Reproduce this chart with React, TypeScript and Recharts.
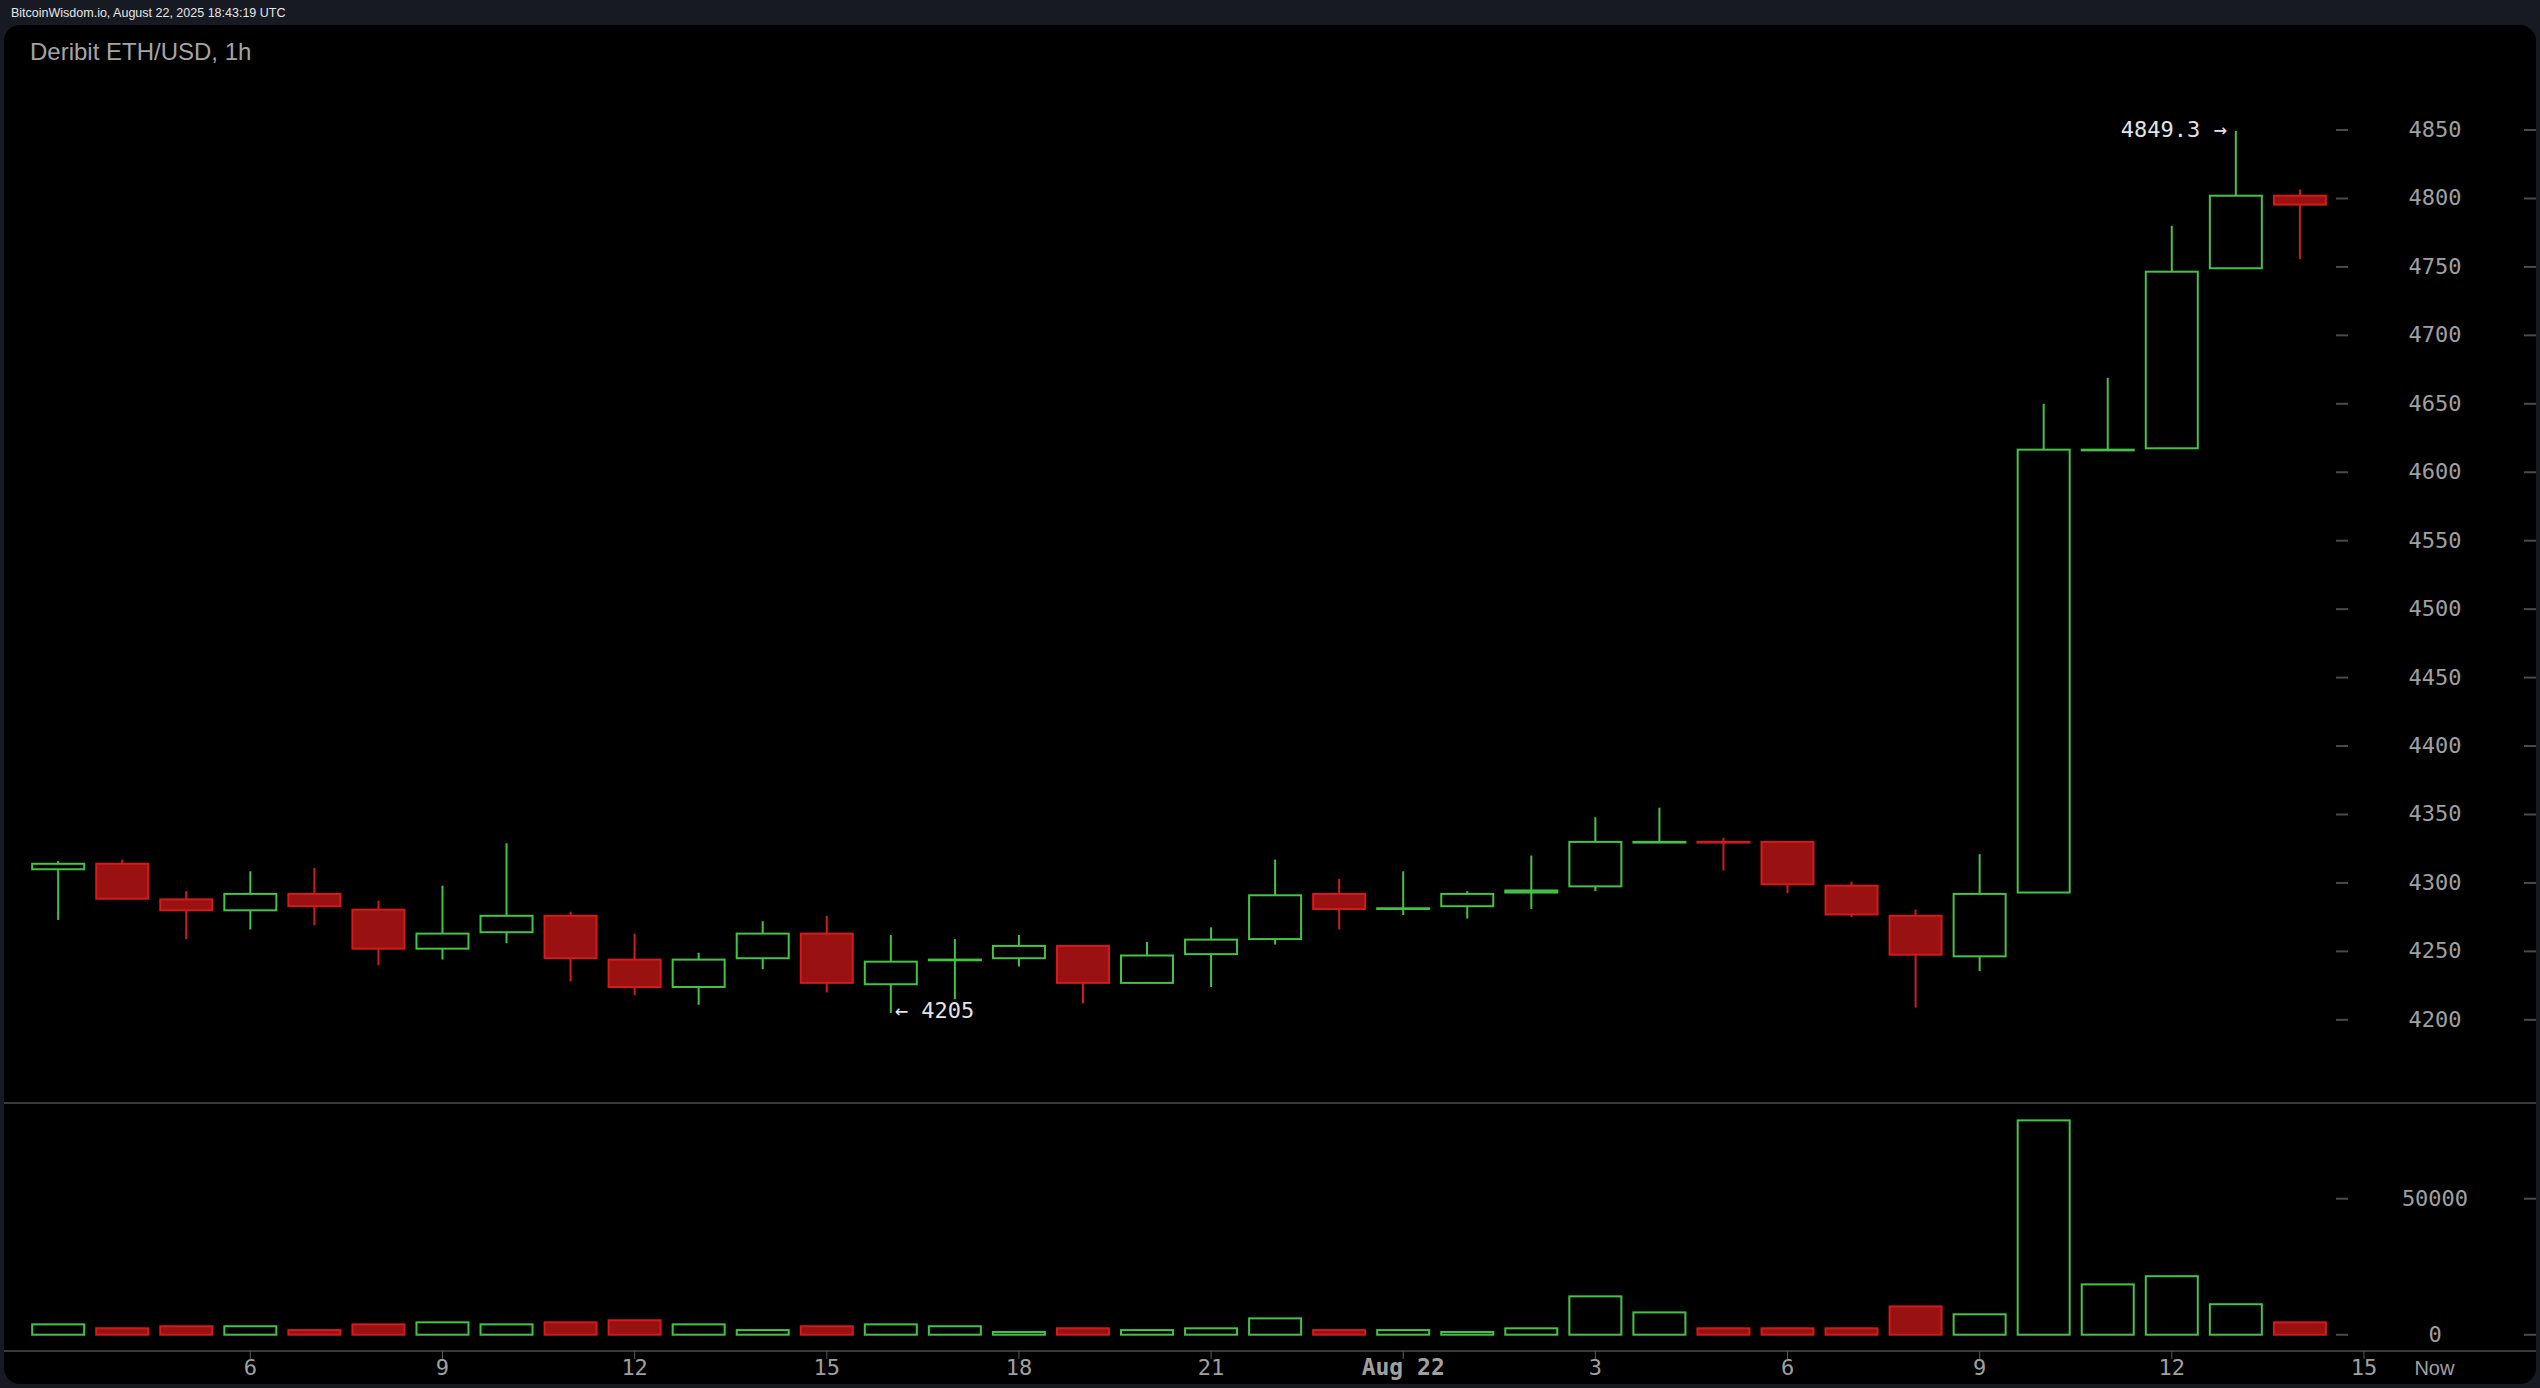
import React from 'react';
import { ComposedChart, Bar, XAxis, YAxis } from 'recharts';

// hourly candles, Aug 21 03:00 .. Aug 22 14:00 (hour index, 24 = Aug 22 00:00)
const hourIdx = [3, 4, 5, 6, 7, 8, 9, 10, 11, 12, 13, 14, 15, 16, 17, 18, 19, 20, 21, 22, 23, 24, 25, 26, 27, 28, 29, 30, 31, 32, 33, 34, 35, 36, 37, 38];
const opens = [4310, 4314, 4288, 4280, 4292, 4280.5, 4252, 4264, 4276, 4244, 4224, 4245, 4263, 4226, 4243.5, 4245, 4254, 4227, 4248, 4259, 4292, 4281, 4283, 4293, 4297.5, 4329.5, 4330, 4330, 4298, 4276, 4246.4, 4293, 4616, 4617.5, 4749, 4802];
const highs = [4316, 4317, 4294, 4308.5, 4311, 4287, 4298, 4329, 4279, 4263, 4249, 4272, 4276, 4262, 4259, 4262, 4254.5, 4257, 4267.6, 4317, 4303, 4308.5, 4294, 4320, 4348, 4355, 4333, 4330.3, 4301, 4280.5, 4321, 4650, 4669, 4780, 4849.3, 4806.5];
const lows = [4273, 4288, 4259, 4266, 4269, 4240, 4244, 4256, 4228, 4218, 4211, 4237, 4220, 4205, 4215, 4239, 4212, 4226.8, 4224, 4255, 4266, 4276.6, 4274, 4281, 4294, 4329.3, 4309, 4292.6, 4275, 4209, 4235.6, 4292.8, 4615.8, 4617, 4748.8, 4755.7];
const closes = [4314, 4288.5, 4280, 4292, 4283, 4252, 4263, 4276, 4245, 4224, 4244, 4263, 4227, 4242.5, 4244, 4254, 4227, 4247, 4258.6, 4291, 4281, 4281.5, 4292, 4294.5, 4330, 4330, 4329.5, 4299, 4277, 4247.6, 4292, 4616.5, 4616.5, 4746.5, 4802, 4795.5];
const volumes = [3800, 2350, 3100, 3100, 1700, 3800, 4550, 3800, 4550, 5300, 3800, 1700, 3100, 3800, 3100, 1000, 2350, 1700, 2350, 6000, 1700, 1700, 1000, 2350, 14100, 8200, 2350, 2350, 2350, 10400, 7500, 78800, 18500, 21500, 11200, 4550];

const priceTicks = [4200, 4250, 4300, 4350, 4400, 4450, 4500, 4550, 4600, 4650, 4700, 4750, 4800, 4850];
const volumeTicks = [0, 50000];
const xTickValues = [6, 9, 12, 15, 18, 21, 24, 27, 30, 33, 36, 39, 40.1];
const xTickLabels = ['6', '9', '12', '15', '18', '21', 'Aug 22', '3', '6', '9', '12', '15', 'Now'];

const GREEN = '#46c246';
const RED = '#d01c1c';
const RED_FILL = '#9a1111';
const AXIS_GREY = '#a0a0a0';
const MONO = '"DejaVu Sans Mono", monospace';
const SANS = '"Liberation Sans", Arial, sans-serif';

const W = 2532;
const X_DOMAIN: [number, number] = [2.1538, 41.686];

const rows = hourIdx.map((h, i) => ({
  h,
  open: opens[i],
  high: highs[i],
  low: lows[i],
  close: closes[i],
  range: [lows[i], highs[i]],
  volume: volumes[i],
  up: closes[i] >= opens[i],
}));

const maxHigh = Math.max(...highs);
const minLow = Math.min(...lows);

const Candle = (props: any) => {
  const { x, y, width, height, payload } = props;
  const top = height >= 0 ? y : y + height;
  const h = Math.abs(height);
  const span = payload.high - payload.low;
  const py = (v: number) => top + ((payload.high - v) / span) * h;
  const color = payload.up ? GREEN : RED;
  const cx = x + width / 2;
  const bTop = py(Math.max(payload.open, payload.close));
  const bBot = py(Math.min(payload.open, payload.close));
  return (
    <g>
      <line x1={cx} x2={cx} y1={top} y2={top + h} stroke={color} strokeWidth={2} />
      <rect
        x={x + 1}
        y={bTop}
        width={width - 2}
        height={Math.max(bBot - bTop, 0.5)}
        fill={payload.up ? '#000' : RED_FILL}
        stroke={color}
        strokeWidth={2}
      />
      {payload.high === maxHigh && (
        <text x={cx - 9} y={top + 6} textAnchor="end" fill="#e4e4e4" fontFamily={MONO} fontSize={22}>
          {`${payload.high} →`}
        </text>
      )}
      {payload.low === minLow && (
        <text x={cx + 4} y={top + h + 5} textAnchor="start" fill="#e4e4e4" fontFamily={MONO} fontSize={22}>
          {`← ${payload.low}`}
        </text>
      )}
    </g>
  );
};

const VolumeBar = (props: any) => {
  const { x, y, width, height, payload } = props;
  const top = height >= 0 ? y : y + height;
  const h = Math.abs(height);
  return (
    <rect
      x={x + 1}
      y={top}
      width={width - 2}
      height={Math.max(h, 0.5)}
      fill={payload.up ? '#000' : RED_FILL}
      stroke={payload.up ? GREEN : RED}
      strokeWidth={2}
    />
  );
};

const SideTick = (props: any) => {
  const { y, payload } = props;
  return (
    <g>
      <line x1={2332} x2={2344} y1={y} y2={y} stroke="#4a4a4a" strokeWidth={2} />
      <text x={2431} y={y + 7} textAnchor="middle" fill={AXIS_GREY} fontFamily={MONO} fontSize={22}>
        {payload.value}
      </text>
      <line x1={2520} x2={2532} y1={y} y2={y} stroke="#4a4a4a" strokeWidth={2} />
    </g>
  );
};

const TimeTick = (props: any) => {
  const { x, y, payload } = props;
  const label = xTickLabels[xTickValues.indexOf(payload.value)] ?? '';
  const isNow = label === 'Now';
  const isDay = label.startsWith('Aug');
  return (
    <g>
      {!isNow && <line x1={x} x2={x} y1={y} y2={y + 8} stroke="#5a5a5a" strokeWidth={1} />}
      <text
        x={x}
        y={y + 24}
        textAnchor="middle"
        fill={AXIS_GREY}
        fontFamily={isNow ? SANS : MONO}
        fontSize={isNow ? 20 : isDay ? 23 : 22}
        fontWeight={isDay ? 'bold' : 'normal'}
      >
        {label}
      </text>
    </g>
  );
};

export default function App() {
  return (
    <div style={{ position: 'absolute', left: 0, top: 0, width: 2540, height: 1388, background: '#171a23', overflow: 'hidden' }}>
      <div style={{ position: 'absolute', left: 11, top: 4, fontFamily: SANS, fontSize: 12.5, color: '#e6e6e6', lineHeight: '18px' }}>
        BitcoinWisdom.io, August 22, 2025 18:43:19 UTC
      </div>
      <div style={{ position: 'absolute', left: 4, top: 25, width: W, height: 1359, background: '#000', borderRadius: 16, overflow: 'hidden' }}>
        <div style={{ position: 'absolute', left: 26, top: 13, fontFamily: SANS, fontSize: 24, color: '#a4a4a4', lineHeight: '28px' }}>
          Deribit ETH/USD, 1h
        </div>

        <div style={{ position: 'absolute', left: 0, top: 0 }}>
          <ComposedChart width={W} height={1078} data={rows} margin={{ top: 0, right: 0, bottom: 0, left: 0 }}>
            <XAxis dataKey="h" type="number" domain={X_DOMAIN} allowDataOverflow hide />
            <YAxis
              orientation="right"
              mirror
              type="number"
              domain={[4139.26, 4926.7]}
              allowDataOverflow
              ticks={priceTicks}
              interval={0}
              axisLine={false}
              tickLine={false}
              tick={<SideTick />}
            />
            <Bar dataKey="range" barSize={54} shape={<Candle />} isAnimationActive={false} />
          </ComposedChart>
        </div>

        <div style={{ position: 'absolute', left: 0, top: 1077, width: W, height: 2, background: '#3a3a3a' }} />

        <div style={{ position: 'absolute', left: 0, top: 1078 }}>
          <ComposedChart width={W} height={281} data={rows} margin={{ top: 1, right: 0, bottom: 0, left: 0 }}>
            <XAxis
              dataKey="h"
              type="number"
              domain={X_DOMAIN}
              allowDataOverflow
              ticks={xTickValues}
              interval={0}
              height={33}
              tickSize={0}
              tickMargin={0}
              tickLine={false}
              axisLine={{ stroke: '#3a3a3a', strokeWidth: 2 }}
              tick={<TimeTick />}
            />
            <YAxis
              orientation="right"
              mirror
              type="number"
              domain={[-5993, 84816]}
              allowDataOverflow
              ticks={volumeTicks}
              interval={0}
              axisLine={false}
              tickLine={false}
              tick={<SideTick />}
            />
            <Bar dataKey="volume" barSize={54} shape={<VolumeBar />} isAnimationActive={false} />
          </ComposedChart>
        </div>
      </div>
    </div>
  );
}
